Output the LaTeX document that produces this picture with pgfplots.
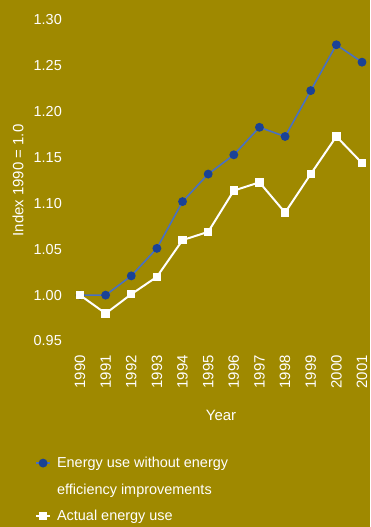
\documentclass[border=0pt]{standalone}
\usepackage{fontspec}
\setmainfont{Liberation Sans}
\usepackage{pgfplots}
\pgfplotsset{compat=1.18}
\definecolor{bg}{RGB}{159,137,0}
\definecolor{navy}{RGB}{26,66,150}
\definecolor{lineblue}{RGB}{72,112,196}

\pgfplotstableread{
year  noeff  actual
1990  1.000  1.000
1991  1.000  0.980
1992  1.021  1.001
1993  1.051  1.020
1994  1.102  1.060
1995  1.132  1.069
1996  1.153  1.114
1997  1.183  1.123
1998  1.173  1.090
1999  1.223  1.132
2000  1.273  1.173
2001  1.254  1.144
}\energy

\begin{document}
\begin{tikzpicture}[x=1bp,y=1bp]
\fill[bg] (0,0) rectangle (370,527);
\begin{axis}[
  at={(80bp,186bp)}, anchor=south west,
  scale only axis, width=282bp, height=321bp,
  xmin=1990, xmax=2001, ymin=0.95, ymax=1.30,
  clip=false,
  axis line style={draw=none},
  major tick length=0pt,
  font=\fontsize{14.5}{17}\selectfont,
  xtick={1990,1991,1992,1993,1994,1995,1996,1997,1998,1999,2000,2001},
  xticklabels={1990,1991,1992,1993,1994,1995,1996,1997,1998,1999,2000,2001},
  ytick={0.95,1.00,1.05,1.10,1.15,1.20,1.25,1.30},
  yticklabels={0.95,1.00,1.05,1.10,1.15,1.20,1.25,1.30},
  tick label style={text=white, inner sep=0pt},
  x tick label style={rotate=90, anchor=east, font=\fontsize{15}{17}\selectfont},
  xticklabel shift=14bp,
  y tick label style={anchor=east, font=\fontsize{14.5}{17}\selectfont},
  yticklabel shift=18bp,
  xlabel={Year},
  ylabel={Index 1990 = 1.0},
  label style={text=white, font=\fontsize{15}{17}\selectfont},
  xlabel style={at={(axis description cs:0.5,-0.2305)}, anchor=center},
  ylabel style={at={(axis description cs:-0.22,0.5)}, anchor=center},
  legend cell align=left,
  legend image code/.code={\draw[mark repeat=2,mark phase=2,#1] plot coordinates {(0bp,0bp)(7bp,0bp)(14bp,0bp)};},
  legend style={at={(axis description cs:-0.16,-0.358)}, anchor=north west,
    draw=none, fill=none, text=white, inner sep=0pt, row sep=12.5bp, column sep=5bp,
    nodes={inner sep=1bp}, font=\fontsize{14.5}{17}\selectfont},
]
\addplot[lineblue, line width=1.6bp, mark=*, mark size=3.6bp,
  mark options={fill=navy, draw=navy}] table[x=year, y=noeff] {\energy};
\addlegendentry{Energy use without energy}
\addlegendimage{empty legend}
\addlegendentry{efficiency improvements}
\addplot[white, line width=2bp, mark=square*, mark size=3.2bp,
  mark options={fill=white, draw=white}] table[x=year, y=actual] {\energy};
\addlegendentry{Actual energy use}
\end{axis}
\end{tikzpicture}
\end{document}
